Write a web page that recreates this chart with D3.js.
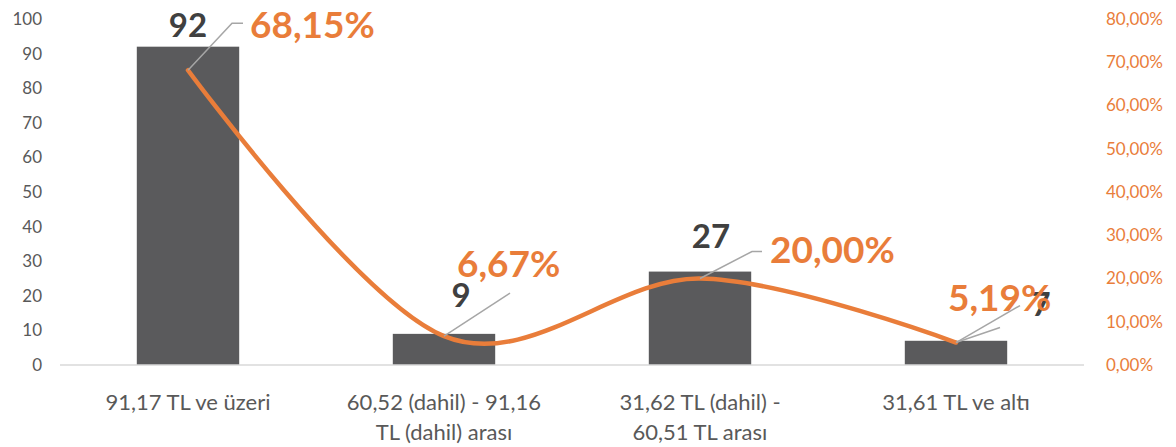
<!DOCTYPE html>
<html>
<head>
<meta charset="utf-8">
<script src="https://cdn.jsdelivr.net/npm/d3@7"></script>
<style>
  body { margin: 0; background: #fff; }
  text { font-family: Lato, "Noto Sans", sans-serif; }
</style>
</head>
<body>
<div id="chart"></div>
<script>
// Data
const categories = [
  ['91,17 TL ve üzeri'],
  ['60,52 (dahil) - 91,16', 'TL (dahil) arası'],
  ['31,62 TL (dahil) -', '60,51 TL arası'],
  ['31,61 TL ve altı']
];
const counts = [92, 9, 27, 7];
const percents = [68.15, 6.67, 20.00, 5.19];
const leftTicks = [0, 10, 20, 30, 40, 50, 60, 70, 80, 90, 100];
const rightTicks = [0, 10, 20, 30, 40, 50, 60, 70, 80];

// label placement (offsets, px), as moved by hand in the original
const countLabelPos = [[0, -10], [17, -27], [11, -24], [85, -25]];
const pctLabelPos = [[62, -32], [13, -59], [70, -16], [-8, -32]];
const leaderLines = [
  [[[0, 0], [44, -47], [55, -47]]],
  [[[0, 0], [66, -43]]],
  [[[0, 0], [52, -27], [62, -27]]],
  [[[0, 0], [44, -15]], [[0, 0], [64, -37]]]
];

const width = 1176;
const height = 447;
const margin = { left: 60, right: 92, top: 19, bottom: 82 };
const chartWidth = width - margin.left - margin.right;
const chartHeight = height - margin.top - margin.bottom;

const barColor = '#5a5a5c';
const lineColor = '#e97d3a';

// Scales
const scaleX = d3.scaleBand()
  .domain(d3.range(categories.length))
  .range([0, chartWidth])
  .paddingInner(0.6)
  .paddingOuter(0.3);

const scaleY = d3.scaleLinear()
  .domain([0, 100])
  .range([chartHeight, 0]);

const scaleY2 = d3.scaleLinear()
  .domain([0, 80])
  .range([chartHeight, 0]);

const svg = d3.select('#chart')
  .append('svg')
  .attr('width', width)
  .attr('height', height);

const g = svg.append('g')
  .attr('transform', 'translate(' + margin.left + ',' + margin.top + ')');

// Left axis
const axisY = d3.axisLeft(scaleY).tickValues(leftTicks).tickSize(0).tickPadding(18);
g.append('g')
  .call(axisY)
  .call(a => a.select('.domain').remove())
  .selectAll('text')
  .attr('font-size', '17px')
  .attr('fill', '#595959')
  .style('font-family', 'Lato, sans-serif');

// Right axis
const axisY2 = d3.axisRight(scaleY2).tickValues(rightTicks).tickSize(0).tickPadding(22)
  .tickFormat(d => d3.format('.2f')(d).replace('.', ',') + '%');
g.append('g')
  .attr('transform', 'translate(' + chartWidth + ',0)')
  .call(axisY2)
  .call(a => a.select('.domain').remove())
  .selectAll('text')
  .attr('font-size', '17px')
  .attr('fill', lineColor)
  .style('font-family', 'Lato, sans-serif');

// Bars
g.selectAll('rect.bar')
  .data(counts)
  .enter()
  .append('rect')
  .attr('class', 'bar')
  .attr('x', (d, i) => scaleX(i))
  .attr('y', d => scaleY(d))
  .attr('width', scaleX.bandwidth())
  .attr('height', d => chartHeight - scaleY(d))
  .attr('fill', barColor);

// Baseline
g.append('line')
  .attr('x1', 0)
  .attr('x2', chartWidth)
  .attr('y1', chartHeight)
  .attr('y2', chartHeight)
  .attr('stroke', '#d9d9d9')
  .attr('stroke-width', 1.5);

// Category labels
const cx = i => scaleX(i) + scaleX.bandwidth() / 2;
const catText = g.selectAll('text.cat')
  .data(categories)
  .enter()
  .append('text')
  .attr('class', 'cat')
  .attr('text-anchor', 'middle')
  .attr('font-size', '22px')
  .attr('fill', '#595959');
catText.selectAll('tspan')
  .data((d, i) => d.map(t => ({ t: t, i: i })))
  .enter()
  .append('tspan')
  .attr('x', d => cx(d.i))
  .attr('y', (d, j) => chartHeight + 45 + j * 30)
  .text(d => d.t);

// Line
const pts = percents.map((p, i) => [cx(i), scaleY2(p)]);
g.append('path')
  .datum(pts)
  .attr('d', d3.line().curve(d3.curveCatmullRom.alpha(0)))
  .attr('fill', 'none')
  .attr('stroke', lineColor)
  .attr('stroke-width', 4.5)
  .attr('stroke-linecap', 'round');

// Leader lines
leaderLines.forEach((set, i) => {
  set.forEach(seg => {
    g.append('path')
      .attr('d', d3.line()(seg.map(p => [pts[i][0] + p[0], pts[i][1] + p[1]])))
      .attr('fill', 'none')
      .attr('stroke', '#a6a6a6')
      .attr('stroke-width', 1.5);
  });
});

// Count labels
g.selectAll('text.count')
  .data(counts)
  .enter()
  .append('text')
  .attr('class', 'count')
  .attr('x', (d, i) => cx(i) + countLabelPos[i][0])
  .attr('y', (d, i) => scaleY(d) + countLabelPos[i][1])
  .attr('text-anchor', 'middle')
  .attr('font-size', '33px')
  .attr('font-weight', 'bold')
  .attr('fill', '#404040')
  .text(d => d);

// Percent labels
g.selectAll('text.pct')
  .data(percents)
  .enter()
  .append('text')
  .attr('class', 'pct')
  .attr('x', (d, i) => pts[i][0] + pctLabelPos[i][0])
  .attr('y', (d, i) => pts[i][1] + pctLabelPos[i][1])
  .attr('font-size', '37px')
  .attr('font-weight', 'bold')
  .attr('fill', lineColor)
  .text(d => d3.format('.2f')(d).replace('.', ',') + '%');
</script>
</body>
</html>
